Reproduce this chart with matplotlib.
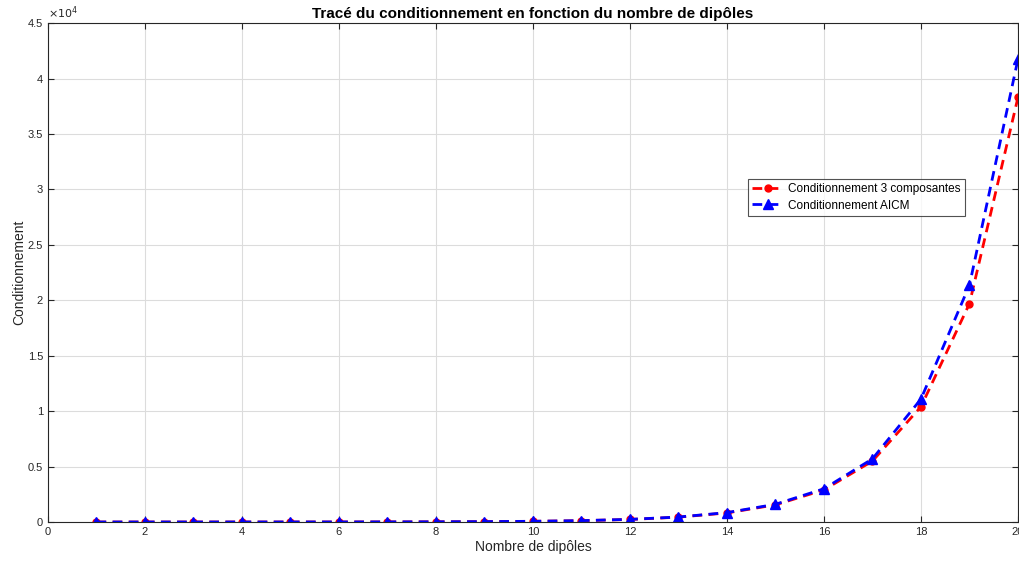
import matplotlib
matplotlib.use("Agg")
import matplotlib.pyplot as plt
from matplotlib.ticker import FuncFormatter, MultipleLocator

plt.rcParams['font.family'] = ['Liberation Sans', 'DejaVu Sans']

dipoles = list(range(1, 21))
cond_3comp = [1, 1.2, 1.5, 2, 3, 5, 10, 18, 35, 62, 120, 230, 440, 820, 1550, 2900, 5500, 10400, 19700, 38300]
cond_aicm = [1, 1.2, 1.5, 2, 3, 5, 10, 18, 35, 65, 125, 240, 450, 850, 1600, 3000, 5700, 11092, 21373, 41754]

fig = plt.figure(figsize=(10.19, 5.63), dpi=100)
ax = fig.add_axes([0.0471, 0.0728, 0.9519, 0.8862])

dash = (0, (3.5, 2.3))
ax.plot(dipoles, cond_3comp, color='red', linestyle=dash, linewidth=2,
        marker='o', markersize=5, label='Conditionnement 3 composantes')
ax.plot(dipoles, cond_aicm, color='blue', linestyle=dash, linewidth=2,
        marker='^', markersize=7, label='Conditionnement AICM')

ax.set_xlim(0, 20)
ax.set_ylim(0, 45000)
ax.xaxis.set_major_locator(MultipleLocator(2))
ax.yaxis.set_major_locator(MultipleLocator(5000))
ax.yaxis.set_major_formatter(FuncFormatter(lambda v, p: f"{v/1e4:g}"))
ax.grid(True, color='#dcdcdc', linewidth=0.8)
ax.set_axisbelow(True)
ax.tick_params(direction='in', top=True, right=True, labelsize=8, length=4, width=0.8, colors='#262626')
for s in ax.spines.values():
    s.set_color('#262626')
    s.set_linewidth(0.8)

ax.text(0.0, 1.005, r'$\times10^4$', transform=ax.transAxes, fontsize=8, ha='left', va='bottom', color='#262626')

ax.set_xlabel('Nombre de dipôles', fontsize=10, color='#262626', labelpad=2)
ax.set_ylabel('Conditionnement', fontsize=10, color='#262626', labelpad=1)
ax.set_title('Tracé du conditionnement en fonction du nombre de dipôles', fontsize=11, fontweight='bold', pad=4)

leg = ax.legend(loc='upper left', bbox_to_anchor=(0.722, 0.687), fontsize=8.5, frameon=True,
                fancybox=False, edgecolor='#262626', borderpad=0.35, labelspacing=0.35,
                handlelength=2.6, handletextpad=0.4, borderaxespad=0)
leg.get_frame().set_linewidth(0.8)

fig.savefig('out.png', dpi=100)
